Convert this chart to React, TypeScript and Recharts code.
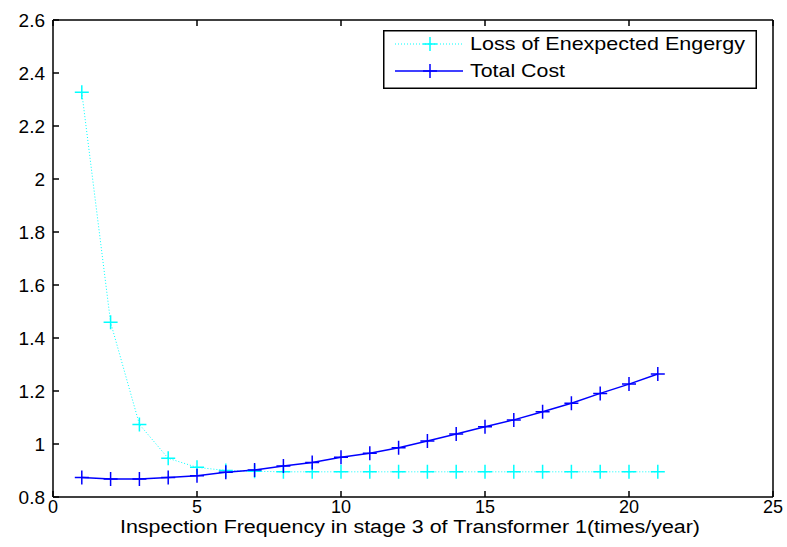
import React from "react";
import { LineChart, Line, XAxis, YAxis } from "recharts";

const frequency = [1, 2, 3, 4, 5, 6, 7, 8, 9, 10, 11, 12, 13, 14, 15, 16, 17, 18, 19, 20, 21];
const lossEnergy = [
    2.327, 1.459, 1.074, 0.946, 0.912, 0.9, 0.897, 0.895, 0.895, 0.895, 0.895,
    0.895, 0.895, 0.895, 0.895, 0.895, 0.895, 0.895, 0.895, 0.895, 0.895,
];
const totalCost = [
    0.874, 0.868, 0.868, 0.874, 0.88, 0.893, 0.902, 0.917, 0.93, 0.95, 0.965,
    0.986, 1.011, 1.038, 1.065, 1.091, 1.122, 1.154, 1.191, 1.226, 1.264,
];
const xTicks = [0, 5, 10, 15, 20, 25];
const yTicks = [0.8, 1, 1.2, 1.4, 1.6, 1.8, 2, 2.2, 2.4, 2.6];

const FONT = "'Liberation Sans', Arial, Helvetica, sans-serif";
const CYAN = "#00ffff";
const BLUE = "#0000ff";

const data = frequency.map((f, i) => ({
    freq: f,
    loss: lossEnergy[i],
    cost: totalCost[i],
}));

// "+" marker like the matlab plot
const crossDot = (color: string) => (props: any) => {
    const { cx, cy, index } = props;
    if (cx == null || cy == null) return <g key={`d-${index}`} />;
    return (
        <path
            key={`d-${color}-${index}`}
            d={`M${cx - 7},${cy}h14M${cx},${cy - 7}v14`}
            stroke={color}
            strokeWidth={1.5}
            fill="none"
        />
    );
};

// legend drawn as an overlay box (top right of the plot)
const LegendBox = () => (
    <svg
        width={374}
        height={59}
        style={{ position: "absolute", left: 383, top: 30, display: "block" }}
    >
        <rect x={0.75} y={0.75} width={372.5} height={57.5} fill="#fff" stroke="#000" strokeWidth={1.5} />
        <line x1={12} y1={14} x2={80} y2={14} stroke={CYAN} strokeWidth={1} strokeDasharray="1 2" />
        <path d="M40,14h14M47,7v14" stroke={CYAN} strokeWidth={1.5} />
        <text x={87} y={20} fontFamily={FONT} fontSize={19} textLength={275} lengthAdjust="spacingAndGlyphs">
            Loss of Enexpected Engergy
        </text>
        <line x1={12} y1={41} x2={80} y2={41} stroke={BLUE} strokeWidth={1.5} />
        <path d="M40,41h14M47,34v14" stroke={BLUE} strokeWidth={1.5} />
        <text x={87} y={47} fontFamily={FONT} fontSize={19} textLength={95} lengthAdjust="spacingAndGlyphs">
            Total Cost
        </text>
    </svg>
);

const tickStyle = { fill: "#000", fontSize: 19, fontFamily: FONT };
const xTickStyle = { fill: "#000", fontSize: 18, fontFamily: FONT };
const noLabel = () => <g />;

export default function App() {
    return (
        <div style={{ position: "absolute", left: 0, top: 0, width: 787, height: 547, background: "#fff" }}>
            <LineChart
                width={787}
                height={547}
                data={data}
                margin={{ top: 19, right: 13, bottom: 0, left: 0 }}
            >
                <XAxis
                    xAxisId="bottom"
                    dataKey="freq"
                    type="number"
                    domain={[0, 25]}
                    ticks={xTicks}
                    height={50}
                    stroke="#000"
                    strokeWidth={1.5}
                    tickSize={-6}
                    tickMargin={9}
                    tick={xTickStyle}
                    label={(props: any) => {
                        const vb = props.viewBox;
                        return (
                            <text
                                x={vb.x + vb.width / 2 - 3}
                                y={vb.y + 36}
                                textAnchor="middle"
                                fontFamily={FONT}
                                fontSize={18}
                                textLength={580}
                                lengthAdjust="spacingAndGlyphs"
                            >
                                Inspection Frequency in stage 3 of Transformer 1(times/year)
                            </text>
                        );
                    }}
                />
                <XAxis
                    xAxisId="top"
                    dataKey="freq"
                    type="number"
                    orientation="top"
                    domain={[0, 25]}
                    ticks={xTicks}
                    height={1}
                    stroke="#000"
                    strokeWidth={1.5}
                    tickSize={-6}
                    tick={noLabel}
                />
                <YAxis
                    yAxisId="left"
                    type="number"
                    domain={[0.8, 2.6]}
                    ticks={yTicks}
                    width={53}
                    stroke="#000"
                    strokeWidth={1.5}
                    tickSize={-6}
                    tickMargin={14}
                    tick={tickStyle}
                    tickFormatter={(v: number) => String(Number(v.toFixed(1)))}
                />
                <YAxis
                    yAxisId="right"
                    orientation="right"
                    type="number"
                    domain={[0.8, 2.6]}
                    ticks={yTicks}
                    width={1}
                    stroke="#000"
                    strokeWidth={1.5}
                    tickSize={-6}
                    tick={noLabel}
                />
                <Line
                    xAxisId="bottom"
                    yAxisId="left"
                    type="linear"
                    dataKey="loss"
                    name="Loss of Enexpected Engergy"
                    stroke={CYAN}
                    strokeWidth={1}
                    strokeDasharray="1 2"
                    dot={crossDot(CYAN)}
                    activeDot={false}
                    isAnimationActive={false}
                />
                <Line
                    xAxisId="bottom"
                    yAxisId="left"
                    type="linear"
                    dataKey="cost"
                    name="Total Cost"
                    stroke={BLUE}
                    strokeWidth={1.5}
                    dot={crossDot(BLUE)}
                    activeDot={false}
                    isAnimationActive={false}
                />
            </LineChart>
            <LegendBox />
        </div>
    );
}
